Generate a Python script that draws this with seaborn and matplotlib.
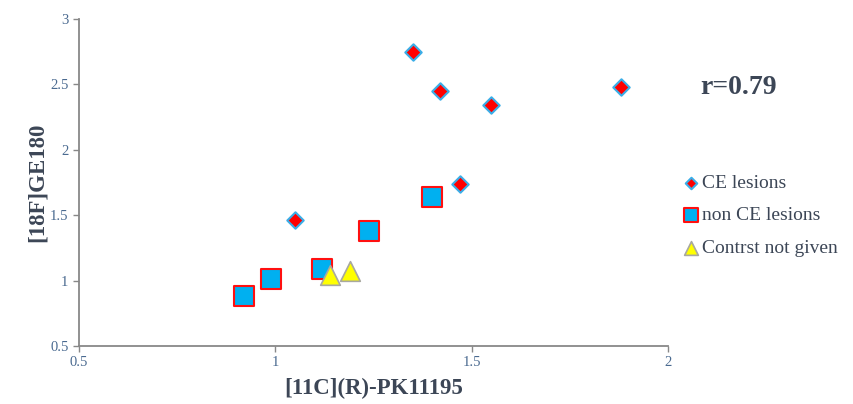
import seaborn as sns
import pandas as pd
import matplotlib.pyplot as plt

# values
ce_x = [1.35, 1.42, 1.55, 1.88, 1.47, 1.05]
ce_y = [2.75, 2.45, 2.34, 2.48, 1.74, 1.46]
nonce_x = [0.92, 0.99, 1.12, 1.24, 1.40]
nonce_y = [0.88, 1.01, 1.09, 1.38, 1.64]
nocon_x = [1.14, 1.19]
nocon_y = [1.04, 1.07]

x_ticks = [0.5, 1, 1.5, 2]
y_ticks = [0.5, 1, 1.5, 2, 2.5, 3]
x_tick_labels = ["0.5", "1", "1.5", "2"]
y_tick_labels = ["0.5", "1", "1.5", "2", "2.5", "3"]

sns.set_style("ticks")
plt.rcParams["font.family"] = ["Liberation Serif", "DejaVu Serif"]

fig = plt.figure(figsize=(8.54, 4.04), dpi=100)
ax = fig.add_axes([0.0925, 0.1436, 0.6895, 0.8094])

ce = pd.DataFrame({"x": ce_x, "y": ce_y})
nonce = pd.DataFrame({"x": nonce_x, "y": nonce_y})
nocon = pd.DataFrame({"x": nocon_x, "y": nocon_y})

sns.scatterplot(data=ce, x="x", y="y", marker="D", s=70, color="#ff0000",
                edgecolor="#3aaee8", linewidth=1.5, label="CE lesions", ax=ax, zorder=3)
sns.scatterplot(data=nonce, x="x", y="y", marker="s", s=190, color="#00b0f0",
                edgecolor="#ff1010", linewidth=1.5, label="non CE lesions", ax=ax, zorder=3)
sns.scatterplot(data=nocon, x="x", y="y", marker="^", s=200, color="#ffff00",
                edgecolor="#a8a8a0", linewidth=1.2, label="Contrst not given", ax=ax, zorder=4)

ax.set_xlim(0.5, 2)
ax.set_ylim(0.5, 3)
ax.set_xticks(x_ticks)
ax.set_xticklabels(x_tick_labels)
ax.set_yticks(y_ticks)
ax.set_yticklabels(y_tick_labels)
ax.tick_params(labelsize=10.5, colors="#888888", labelcolor="#4a6a90", length=4, width=1)

for side in ["top", "right"]:
    ax.spines[side].set_visible(False)
for side in ["left", "bottom"]:
    ax.spines[side].set_color("#888888")
    ax.spines[side].set_linewidth(1.3)

ax.set_xlabel("[11C](R)-PK11195", fontsize=16.5, fontweight="bold", color="#3c4656",
              labelpad=6)
ax.set_ylabel("[18F]GE180", fontsize=16.5, fontweight="bold", color="#3c4656",
              labelpad=2)

ax.text(1.055, 0.79, "r=0.79", transform=ax.transAxes, fontsize=20,
        fontweight="bold", color="#3c4656", va="center")

leg = ax.legend(loc="center left", bbox_to_anchor=(0.993, 0.399), frameon=False,
                fontsize=14, handletextpad=0.05, labelspacing=0.76,
                markerscale=0.7, handlelength=1.0)
for t in leg.get_texts():
    t.set_color("#3c4656")

fig.savefig("out.png", dpi=100)
